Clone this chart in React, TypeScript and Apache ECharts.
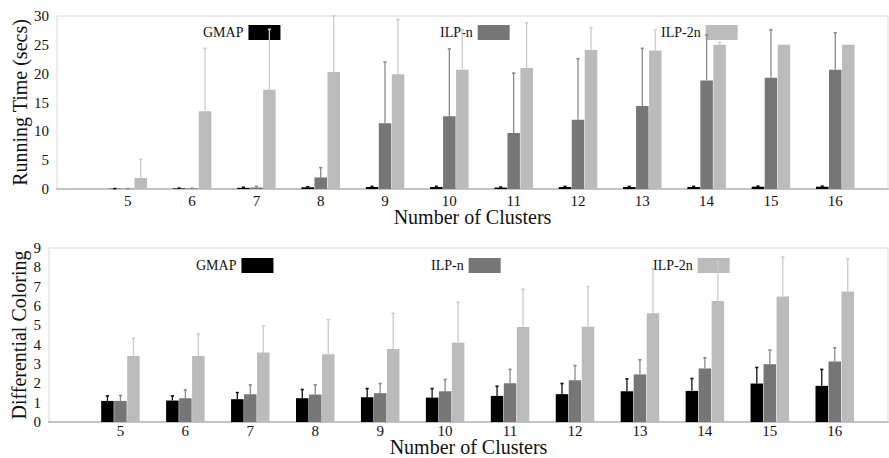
import React, { useEffect, useRef } from "react";
import * as echarts from "echarts";

// ---------- data ----------
const clusters = [5, 6, 7, 8, 9, 10, 11, 12, 13, 14, 15, 16];
const seriesNames = ["GMAP", "ILP-n", "ILP-2n"];

// Running time (secs)
const timeGMAP = [0.05, 0.1, 0.2, 0.3, 0.35, 0.35, 0.25, 0.35, 0.35, 0.35, 0.4, 0.4];
const timeGMAPErr = [0.02, 0.05, 0.1, 0.1, 0.1, 0.1, 0.1, 0.1, 0.1, 0.1, 0.1, 0.1];
const timeILPn = [0.05, 0.08, 0.25, 2.0, 11.4, 12.6, 9.7, 12.0, 14.4, 18.8, 19.3, 20.7];
const timeILPnErr = [0.02, 0.05, 0.2, 1.7, 10.6, 11.7, 10.4, 10.6, 10.0, 7.9, 8.3, 6.4];
const timeILP2n = [1.9, 13.5, 17.2, 20.3, 19.9, 20.7, 21.0, 24.1, 24.0, 25.0, 25.0, 25.0];
const timeILP2nErr = [3.25, 10.9, 10.5, 9.7, 9.5, 6.9, 7.8, 3.9, 3.6, 0.4, 0, 0];

// Differential coloring
const colGMAP = [1.09, 1.11, 1.18, 1.23, 1.28, 1.26, 1.35, 1.44, 1.59, 1.61, 1.99, 1.87];
const colGMAPErr = [0.26, 0.24, 0.34, 0.45, 0.45, 0.47, 0.5, 0.55, 0.64, 0.64, 0.83, 0.85];
const colILPn = [1.09, 1.23, 1.44, 1.42, 1.49, 1.59, 2.01, 2.16, 2.46, 2.77, 2.99, 3.13];
const colILPnErr = [0.28, 0.43, 0.48, 0.5, 0.5, 0.61, 0.71, 0.76, 0.76, 0.55, 0.73, 0.71];
const colILP2n = [3.41, 3.41, 3.6, 3.51, 3.77, 4.1, 4.91, 4.93, 5.62, 6.26, 6.49, 6.75];
const colILP2nErr = [0.93, 1.14, 1.37, 1.78, 1.85, 2.09, 1.96, 2.07, 2.3, 2.04, 2.04, 1.68];

// ---------- styles ----------
const FONT = "'Liberation Serif', 'Times New Roman', serif";
const TEXT = "#111111";
const barColors = ["#000000", "#767676", "#bbbbbb"];
const errColors = ["#111111", "#8a8a8a", "#cbcbcb"];
const BAR_W = 12.5;
const BAR_STRIDE = 13;

function pairs(vals: number[]) {
  return clusters.map((c, i) => [c, vals[i]]);
}
function triples(vals: number[], errs: number[]) {
  return clusters.map((c, i) => [c, vals[i], errs[i]]);
}

function errSeries(idx: number, gridIdx: number, vals: number[], errs: number[]) {
  const offset = (idx - 1) * BAR_STRIDE;
  const color = errColors[idx];
  return {
    type: "custom",
    name: seriesNames[idx] + " error",
    xAxisIndex: gridIdx,
    yAxisIndex: gridIdx,
    z: 6,
    silent: true,
    encode: { x: 0, y: 1 },
    data: triples(vals, errs),
    renderItem: (_params: any, api: any) => {
      const x = api.value(0);
      const v = api.value(1);
      const e = api.value(2);
      if (!e) return null;
      const p0 = api.coord([x, v]);
      const p1 = api.coord([x, v + e]);
      const cx = p0[0] + offset;
      return {
        type: "group",
        children: [
          {
            type: "line",
            shape: { x1: cx, y1: p0[1], x2: cx, y2: p1[1] },
            style: { stroke: color, lineWidth: 1.3 },
          },
          {
            type: "line",
            shape: { x1: cx - 1.6, y1: p1[1], x2: cx + 1.6, y2: p1[1] },
            style: { stroke: color, lineWidth: 1.6 },
          },
        ],
      };
    },
  };
}

function barSeries(idx: number, gridIdx: number, vals: number[]) {
  return {
    type: "bar",
    name: seriesNames[idx],
    xAxisIndex: gridIdx,
    yAxisIndex: gridIdx,
    barWidth: BAR_W,
    barGap: "4%",
    itemStyle: { color: barColors[idx] },
    data: pairs(vals),
  };
}

function legendItem(idx: number, left: number, top: number) {
  return {
    data: [seriesNames[idx]],
    left,
    top,
    padding: 0,
    align: "right",
    icon: "rect",
    itemWidth: 32,
    itemHeight: 15,
    selectedMode: false,
    textStyle: { fontFamily: FONT, fontSize: 14, color: TEXT },
  };
}

function xAxisDef(gridIdx: number, labelMargin: number, nameGap: number) {
  return {
    type: "value",
    gridIndex: gridIdx,
    min: 3.9,
    max: 16.82,
    name: "Number of Clusters",
    nameLocation: "middle",
    nameGap,
    nameMoveOverlap: false,
    nameTextStyle: { fontFamily: FONT, fontSize: 20, lineHeight: 18, color: TEXT },
    axisLine: { show: true, lineStyle: { color: "#c4c4c4", width: 2 } },
    axisTick: { show: false },
    splitLine: { show: false },
    axisLabel: {
      customValues: clusters,
      margin: labelMargin,
      fontFamily: FONT,
      fontSize: 15,
      lineHeight: 14,
      color: TEXT,
    },
  };
}

function yAxisDef(gridIdx: number, max: number, interval: number, name: string, nameGap: number) {
  return {
    type: "value",
    gridIndex: gridIdx,
    min: 0,
    max,
    interval,
    name,
    nameLocation: "middle",
    nameGap,
    nameMoveOverlap: false,
    nameTextStyle: { fontFamily: FONT, fontSize: 20, color: TEXT },
    axisLine: { show: false },
    axisTick: { show: false },
    splitLine: { show: false },
    axisLabel: { margin: 8, fontFamily: FONT, fontSize: 15, color: TEXT },
  };
}

export default function App() {
  const ref = useRef<HTMLDivElement>(null);

  useEffect(() => {
    if (!ref.current) return;
    const chart = echarts.init(ref.current, null, { renderer: "svg" });
    chart.setOption({
      animation: false,
      backgroundColor: "#ffffff",
      textStyle: { fontFamily: FONT },
      grid: [
        { left: 57, right: 1, top: 16, height: 173, show: true, borderColor: "#d9d9d9", borderWidth: 1, backgroundColor: "transparent", outerBoundsMode: "none", containLabel: false },
        { left: 49, right: 1, top: 248, height: 174, show: true, borderColor: "#d9d9d9", borderWidth: 1, backgroundColor: "transparent", outerBoundsMode: "none", containLabel: false },
      ],
      xAxis: [xAxisDef(0, 5, 19), xAxisDef(1, 2, 16)],
      yAxis: [
        yAxisDef(0, 30, 5, "Running Time (secs)", 27),
        yAxisDef(1, 9, 1, "Differential Coloring", 20),
      ],
      legend: [
        legendItem(0, 203, 25),
        legendItem(1, 440, 25),
        legendItem(2, 661, 25),
        legendItem(0, 196, 258),
        legendItem(1, 431, 258),
        legendItem(2, 653, 258),
      ],
      series: [
        barSeries(0, 0, timeGMAP),
        barSeries(1, 0, timeILPn),
        barSeries(2, 0, timeILP2n),
        errSeries(0, 0, timeGMAP, timeGMAPErr),
        errSeries(1, 0, timeILPn, timeILPnErr),
        errSeries(2, 0, timeILP2n, timeILP2nErr),
        barSeries(0, 1, colGMAP),
        barSeries(1, 1, colILPn),
        barSeries(2, 1, colILP2n),
        errSeries(0, 1, colGMAP, colGMAPErr),
        errSeries(1, 1, colILPn, colILPnErr),
        errSeries(2, 1, colILP2n, colILP2nErr),
      ],
    });
    return () => chart.dispose();
  }, []);

  return <div ref={ref} style={{ width: 889, height: 458, position: "absolute", left: 0, top: 0 }} />;
}
